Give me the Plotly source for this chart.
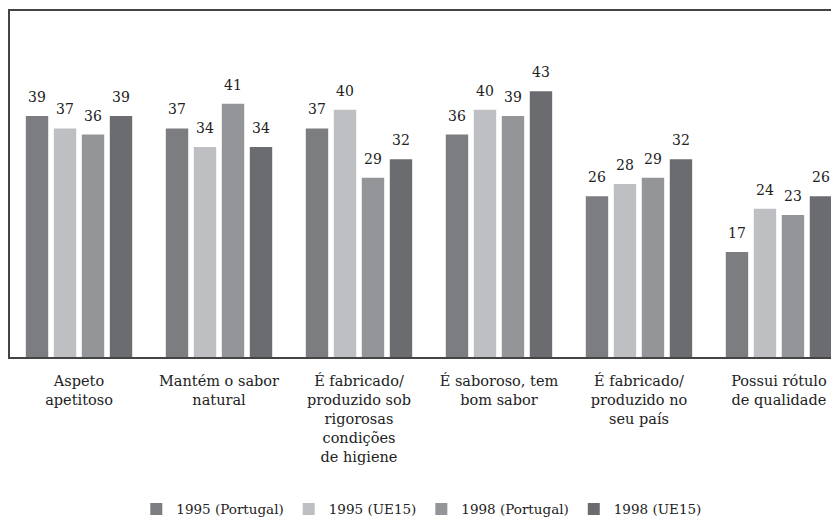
import plotly.graph_objects as go

categories = [
    "Aspeto<br>apetitoso",
    "Mantém o sabor<br>natural",
    "É fabricado/<br>produzido sob<br>rigorosas<br>condições<br>de higiene",
    "É saboroso, tem<br>bom sabor",
    "É fabricado/<br>produzido no<br>seu país",
    "Possui rótulo<br>de qualidade",
]
series_names = ["1995 (Portugal)", "1995 (UE15)", "1998 (Portugal)", "1998 (UE15)"]
pt_1995 = [39, 37, 37, 36, 26, 17]
ue_1995 = [37, 34, 40, 40, 28, 24]
pt_1998 = [36, 41, 29, 39, 29, 23]
ue_1998 = [39, 34, 32, 43, 32, 26]
series_values = [pt_1995, ue_1995, pt_1998, ue_1998]
colors = ["#7c7d81", "#bebfc3", "#949599", "#6b6c70"]

FONT = "DejaVu Serif"
fig = go.Figure()
idx = list(range(len(categories)))
for name, vals, col in zip(series_names, series_values, colors):
    fig.add_trace(go.Bar(x=idx, y=vals, name=name, marker=dict(color=col, line=dict(width=0))))

# value labels above bars
n = len(series_values)
slot = 0.8 / n
for s, vals in enumerate(series_values):
    off = -0.4 + slot * (s + 0.5)
    for i, v in enumerate(vals):
        fig.add_annotation(x=i + off, y=v, text=str(v), showarrow=False,
                           xref="x", yref="y", yanchor="middle", yshift=19,
                           font=dict(family=FONT, size=14, color="#222222"))

fig.update_layout(
    width=839, height=521,
    margin=dict(l=2, r=0, t=3, b=172),
    paper_bgcolor="white", plot_bgcolor="white",
    barmode="group", bargap=0.2, bargroupgap=0.2,
    font=dict(family=FONT, size=14, color="#222222"),
    showlegend=True,
    legend=dict(orientation="h", x=0.492, xanchor="center", y=0.008, yanchor="bottom",
                yref="container", font=dict(family=FONT, size=13.5, color="#222222"),
                itemclick=False, traceorder="normal"),
)
fig.update_xaxes(
    tickmode="array", tickvals=idx, ticktext=categories,
    range=[-0.493, 5.486], showgrid=False, zeroline=False,
    showline=True, linecolor="#444444", linewidth=1.5, mirror=True,
    ticks="", ticklabelstandoff=10,
    tickfont=dict(family=FONT, size=14.5, color="#222222"),
)
fig.update_yaxes(
    range=[0, 56], showgrid=False, zeroline=False, showticklabels=False,
    showline=True, linecolor="#444444", linewidth=1.5, mirror=False, ticks="",
)
fig.write_html("out.html")
